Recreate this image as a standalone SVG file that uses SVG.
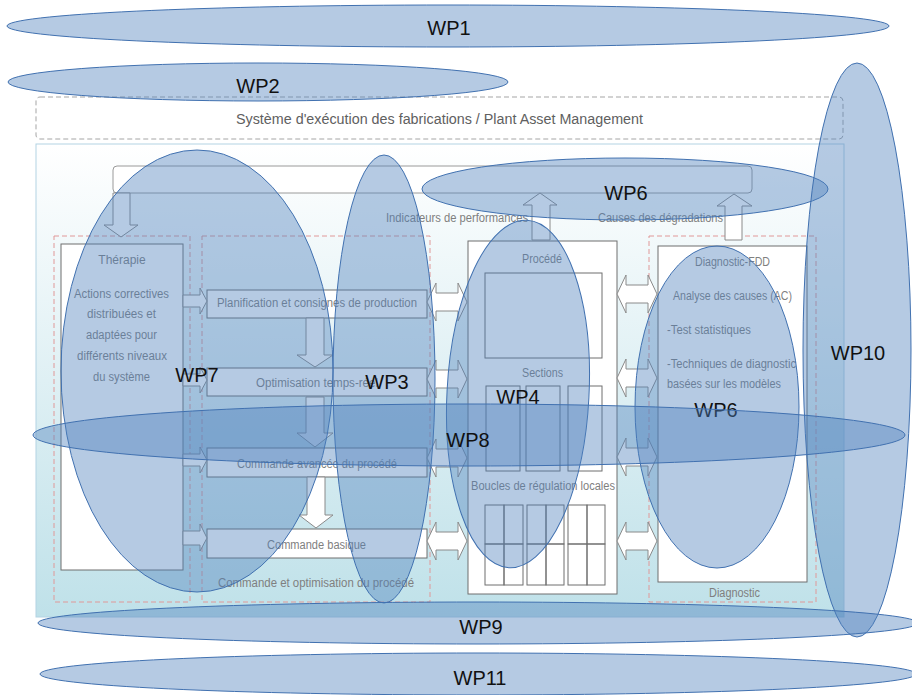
<svg xmlns="http://www.w3.org/2000/svg" width="912" height="695" viewBox="0 0 912 695">
<defs>
<linearGradient id="bg" x1="0" y1="0" x2="0" y2="1">
<stop offset="0" stop-color="#ffffff"/>
<stop offset="1" stop-color="#bfe1e9"/>
</linearGradient>
<style>
.t{font-family:"Liberation Sans",Arial,sans-serif;font-size:12px;fill:#7f7f7f}
.tc{text-anchor:middle}
.box{fill:none;stroke:#6f6f6f;stroke-width:1}
.wbox{fill:#ffffff;stroke:#6f6f6f;stroke-width:1}
.red{fill:none;stroke:#e09898;stroke-width:1;stroke-dasharray:5 3}
.arr{fill:#ffffff;stroke:#8a8a8a;stroke-width:1}
.wp{fill:#4f81bd;fill-opacity:0.42;stroke:#4171b0;stroke-width:1}
.wl{font-family:"Liberation Sans",Arial,sans-serif;font-size:20px;fill:#111111;text-anchor:middle}
</style>
</defs>
<rect width="912" height="695" fill="#ffffff"/>
<g id="mes">
<rect x="36" y="97" width="807" height="42" rx="4" fill="none" stroke="#a5a5a5" stroke-dasharray="5 3"/>
<text class="t" x="236" y="124" style="font-size:14px;fill:#606060" textLength="407" lengthAdjust="spacingAndGlyphs">Système d'exécution des fabrications / Plant Asset Management</text>
</g>
<g id="frame">
<rect x="36" y="144" width="808" height="473" fill="url(#bg)" stroke="#b3d3e3"/>
<rect x="113" y="166" width="639" height="27" rx="4" fill="#ffffff" stroke="#9a9a9a"/>
<text class="t" x="386" y="222" textLength="142" lengthAdjust="spacingAndGlyphs">Indicateurs de performances</text>
<text class="t" x="598" y="222" textLength="125" lengthAdjust="spacingAndGlyphs">Causes  des dégradations</text>
</g>
<g id="therapie">
<rect class="red" x="54" y="236" width="136" height="366"/>
<rect class="wbox" x="61" y="244" width="122" height="326"/>
<text class="t tc" x="122" y="264">Thérapie</text>
<text class="t" x="74" y="298" textLength="95" lengthAdjust="spacingAndGlyphs">Actions correctives</text>
<text class="t" x="87" y="318" textLength="69" lengthAdjust="spacingAndGlyphs">distribuées et</text>
<text class="t" x="86" y="339" textLength="71" lengthAdjust="spacingAndGlyphs">adaptées pour</text>
<text class="t" x="77" y="360" textLength="90" lengthAdjust="spacingAndGlyphs">différents niveaux</text>
<text class="t" x="93" y="381" textLength="57" lengthAdjust="spacingAndGlyphs">du système</text>
</g>
<g id="commande">
<rect class="red" x="202" y="236" width="228" height="366"/>
<rect class="wbox" x="207" y="290" width="220" height="28"/>
<text class="t" x="217" y="307" textLength="200" lengthAdjust="spacingAndGlyphs">Planification et consignes de production</text>
<rect class="wbox" x="207" y="368" width="220" height="28"/>
<text class="t" x="256" y="387" textLength="122" lengthAdjust="spacingAndGlyphs">Optimisation temps-réel</text>
<rect class="wbox" x="207" y="448" width="220" height="29"/>
<text class="t" x="237" y="468" textLength="160" lengthAdjust="spacingAndGlyphs">Commande avancée du procédé</text>
<rect class="wbox" x="207" y="529" width="220" height="29"/>
<text class="t" x="267" y="549" textLength="99" lengthAdjust="spacingAndGlyphs">Commande basique</text>
<text class="t" x="218" y="587" textLength="196" lengthAdjust="spacingAndGlyphs">Commande et optimisation du procédé</text>
</g>
<g id="procede">
<rect class="wbox" x="468" y="241" width="149" height="353"/>
<text class="t" x="522" y="263" textLength="40" lengthAdjust="spacingAndGlyphs">Procédé</text>
<rect class="box" x="485" y="273" width="117" height="85"/>
<text class="t" x="522" y="377" textLength="41" lengthAdjust="spacingAndGlyphs">Sections</text>
<rect class="box" x="486" y="386" width="34" height="85"/>
<rect class="box" x="526" y="386" width="34" height="85"/>
<rect class="box" x="568" y="386" width="34" height="85"/>
<text class="t" x="471" y="490" textLength="144" lengthAdjust="spacingAndGlyphs">Boucles de régulation locales</text>
<g class="box">
<rect x="485" y="505" width="19" height="39"/><rect x="504" y="505" width="19" height="39"/>
<rect x="485" y="544" width="19" height="41"/><rect x="504" y="544" width="19" height="41"/>
<rect x="527" y="505" width="19" height="39"/><rect x="546" y="505" width="18" height="39"/>
<rect x="527" y="544" width="19" height="41"/><rect x="546" y="544" width="18" height="41"/>
<rect x="568" y="505" width="19" height="39"/><rect x="587" y="505" width="18" height="39"/>
<rect x="568" y="544" width="19" height="41"/><rect x="587" y="544" width="18" height="41"/>
</g>
</g>
<g id="diagnostic">
<rect class="red" x="649" y="236" width="167" height="366"/>
<rect class="wbox" x="658" y="246" width="149" height="336"/>
<text class="t" x="695" y="266" textLength="75" lengthAdjust="spacingAndGlyphs">Diagnostic-FDD</text>
<text class="t" x="673" y="300" textLength="119" lengthAdjust="spacingAndGlyphs">Analyse des causes (AC)</text>
<text class="t" x="667" y="334" textLength="84" lengthAdjust="spacingAndGlyphs">-Test statistiques</text>
<text class="t" x="667" y="368" textLength="129" lengthAdjust="spacingAndGlyphs">-Techniques de diagnostic</text>
<text class="t" x="667" y="388" textLength="114" lengthAdjust="spacingAndGlyphs">basées sur les modèles</text>
<text class="t" x="709" y="597" textLength="51" lengthAdjust="spacingAndGlyphs">Diagnostic</text>
</g>
<g id="connectors">
<path class="arr" d="M113,193 L130,193 L130,225 L138,225 L121,237 L104,225 L113,225 Z"/>
<path class="arr" d="M532,240 L532,205 L523,205 L540,193 L557,205 L550,205 L550,240 Z"/>
<path class="arr" d="M725,240 L725,206 L717,206 L734,194 L752,206 L742,206 L742,240 Z"/>
<path class="arr" d="M306,318 L324,318 L324,355 L333,355 L315,367 L297,355 L306,355 Z"/>
<path class="arr" d="M306,397 L324,397 L324,433 L333,433 L315,447 L297,433 L306,433 Z"/>
<path class="arr" d="M307,477 L325,477 L325,515 L333,515 L316,528 L299,515 L307,515 Z"/>
<path class="arr" d="M183,295 L200,295 L200,288 L207,301 L200,314 L200,307 L183,307 Z"/>
<path class="arr" d="M183,374 L200,374 L200,367 L207,380 L200,393 L200,386 L183,386 Z"/>
<path class="arr" d="M183,454 L200,454 L200,447 L207,460 L200,473 L200,466 L183,466 Z"/>
<path class="arr" d="M183,531 L200,531 L200,524 L207,538 L200,551 L200,545 L183,545 Z"/>
<path class="arr" d="M427,302 L436,283 L436,293 L458,293 L458,283 L467,302 L458,321 L458,311 L436,311 L436,321 Z"/>
<path class="arr" d="M427,379 L436,360 L436,370 L458,370 L458,360 L467,379 L458,398 L458,388 L436,388 L436,398 Z"/>
<path class="arr" d="M427,458 L436,439 L436,449 L458,449 L458,439 L467,458 L458,477 L458,467 L436,467 L436,477 Z"/>
<path class="arr" d="M427,541 L436,522 L436,532 L458,532 L458,522 L467,541 L458,560 L458,550 L436,550 L436,560 Z"/>
<path class="arr" d="M617,294 L626,275 L626,285 L648,285 L648,275 L657,294 L648,313 L648,303 L626,303 L626,313 Z"/>
<path class="arr" d="M617,378 L626,359 L626,369 L648,369 L648,359 L657,378 L648,397 L648,387 L626,387 L626,397 Z"/>
<path class="arr" d="M617,457 L626,438 L626,448 L648,448 L648,438 L657,457 L648,476 L648,466 L626,466 L626,476 Z"/>
<path class="arr" d="M617,541 L626,522 L626,532 L648,532 L648,522 L657,541 L648,560 L648,550 L626,550 L626,560 Z"/>
</g>
<g id="WP1"><ellipse class="wp" cx="448" cy="26" rx="441" ry="21"/><text class="wl" x="449" y="35">WP1</text></g>
<g id="WP2"><ellipse class="wp" cx="258" cy="82" rx="250" ry="19"/><text class="wl" x="258" y="93">WP2</text></g>
<g id="WP6a"><ellipse class="wp" cx="625" cy="189" rx="203" ry="31"/><text class="wl" x="626" y="200">WP6</text></g>
<g id="WP10"><ellipse class="wp" cx="857" cy="350" rx="54" ry="287"/><text class="wl" x="858" y="360">WP10</text></g>
<g id="WP7"><ellipse class="wp" cx="197" cy="371" rx="136" ry="221"/><text class="wl" x="197" y="382">WP7</text></g>
<g id="WP3"><ellipse class="wp" cx="384" cy="379" rx="51" ry="224"/><text class="wl" x="387" y="389">WP3</text></g>
<g id="WP4"><ellipse class="wp" cx="518" cy="394" rx="71" ry="174" transform="rotate(3 518 394)"/><text class="wl" x="518" y="404">WP4</text></g>
<g id="WP6b"><ellipse class="wp" cx="717" cy="407" rx="82" ry="161"/><text class="wl" x="716" y="417">WP6</text></g>
<g id="WP8"><ellipse class="wp" cx="469" cy="435" rx="436" ry="31"/><text class="wl" x="468" y="447">WP8</text></g>
<g id="WP9"><ellipse class="wp" cx="478" cy="623" rx="440" ry="21"/><text class="wl" x="481" y="634">WP9</text></g>
<g id="WP11"><ellipse class="wp" cx="478" cy="674" rx="438" ry="21"/><text class="wl" x="480" y="685">WP11</text></g>
</svg>
